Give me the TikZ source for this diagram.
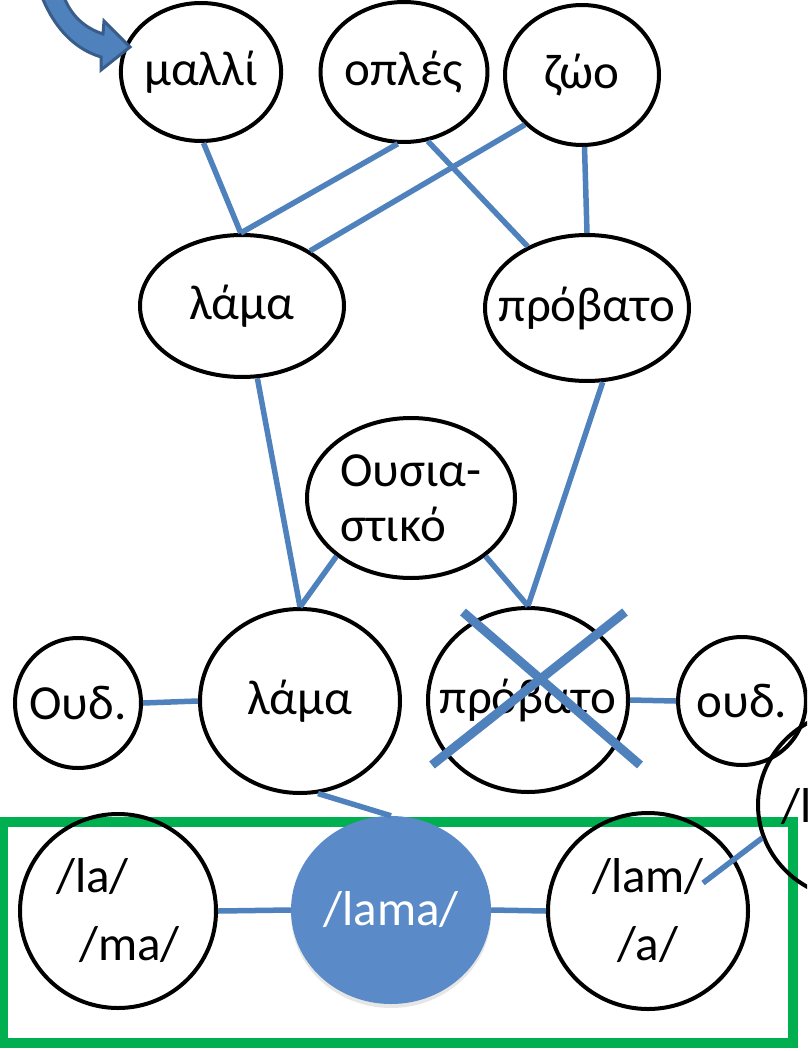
\documentclass[tikz,border=0pt]{standalone}
\usepackage{fontspec}
\setmainfont{Carlito}
\usetikzlibrary{shapes.geometric,calc,shadows}
\definecolor{linkblue}{HTML}{4F81BD}
\definecolor{arrowedge}{HTML}{385D8A}
\definecolor{ballblue}{HTML}{5A8BC8}
\definecolor{boxgreen}{HTML}{00B050}

\begin{document}
\begin{tikzpicture}[x=1pt, y=-1pt,
    font=\fontsize{49}{55}\selectfont,
    bub/.style={ellipse, draw, line width=4pt, inner sep=0pt},
    link/.style={draw=linkblue, line width=5.5pt},
    xmark/.style={draw=linkblue, line width=9pt}]

  \useasboundingbox (0,0) rectangle (807,1051);
  \clip (0,0) rectangle (807,1051);

  % Frame round the sound forms
  \draw[boxgreen, line width=10pt] (3,822) rectangle (793,1043);

  % Top row
  \node[bub, minimum width=156pt, minimum height=138pt] (malli) at (201,72) {μαλλί};
  \node[bub, minimum width=156pt, minimum height=140pt] (oples) at (404,72) {οπλές};
  \node[bub, minimum width=154pt, minimum height=140pt] (zoo) at (582,75) {ζώο};

  % Middle row
  \node[bub, minimum width=204pt, minimum height=142pt] (lamaU) at (242,306) {λάμα};
  \node[bub, minimum width=204pt, minimum height=146pt] (provU) at (587,308) {\makebox[0pt]{πρόβατο}};
  \node[bub, minimum width=208pt, minimum height=160pt, align=left] (noun) at (411,498) {Ουσια-\\στικό};

  % Lemma row
  \node[bub, minimum width=126pt, minimum height=130pt] (neutL) at (78,703) {\makebox[0pt]{Ουδ.}};
  \node[bub, minimum width=200pt, minimum height=184pt] (lamaL) at (300,701) {λάμα};
  \node[bub, minimum width=200pt, minimum height=184pt] (provL) at (528,700) {\makebox[0pt]{πρόβατο}};
  \node[bub, minimum width=126pt, minimum height=128pt] (neutR) at (742,701) {ουδ.};
  \node[bub, minimum width=200pt, minimum height=190pt] (lamX) at (858,805) {};
  \node[anchor=base west, inner sep=0pt] (lamXtxt) at (781,822) {/l};

  % Sound forms
  \node[bub, minimum width=196pt, minimum height=194pt, align=left,
    font=\fontsize{49}{68}\selectfont] (laMa) at (118,911) {/la/\\\hspace{23pt}/ma/};
  \node[ellipse, fill=ballblue, text=white, inner sep=0pt, minimum width=200pt, minimum height=188pt,
    drop shadow={shadow xshift=0pt, shadow yshift=-4pt, opacity=0.2}] (lama) at (391,910) {/lama/};
  \node[bub, minimum width=200pt, minimum height=196pt, align=center,
    font=\fontsize{49}{68}\selectfont] (lamA) at (648,911) {/lam/\\/a/};

  % Links
  \draw[link] (malli.-88) -- (lamaU.91);
  \draw[link] (oples.-95) -- (lamaU.91);
  \draw[link] (zoo.-139) -- (lamaU.39);
  \draw[link] (oples.-71) -- (provU.134);
  \draw[link] (zoo.-88) -- (provU.90);
  \draw[link] (lamaU.-78) -- (lamaL.90);
  \draw[link] (provU.-78) -- (provL.90);
  \draw[link] (noun.-142) -- (lamaL.90);
  \draw[link] (noun.-38) -- (provL.90);
  \draw[link] (neutL.east) -- (lamaL.west);
  \draw[link] (provL.east) -- (neutR.west);
  \draw[link] (lamaL.-79) -- (lama.90);
  \draw[link] (laMa.east) -- (lama.west);
  \draw[link] (lama.east) -- (lamA.west);
  \draw[link] ($(lamA.center)+(55,-28)$) -- (lamX.-161);

  % Crossed out
  \draw[xmark] ($(provL)+(-65,-88)$) -- ($(provL)+(112,65)$);
  \draw[xmark] ($(provL)+(97,-88)$) -- ($(provL)+(-96,65)$);

  % Curved arrow
  \filldraw[fill=linkblue, draw=arrowedge, line width=3pt]
    (40,-8) .. controls (55,32) and (78,50) .. (101,57) -- (101,70) -- (130,47)
    -- (104,21) -- (103,34) .. controls (85,28) and (70,16) .. (62,-8) -- cycle;

\end{tikzpicture}
\end{document}
